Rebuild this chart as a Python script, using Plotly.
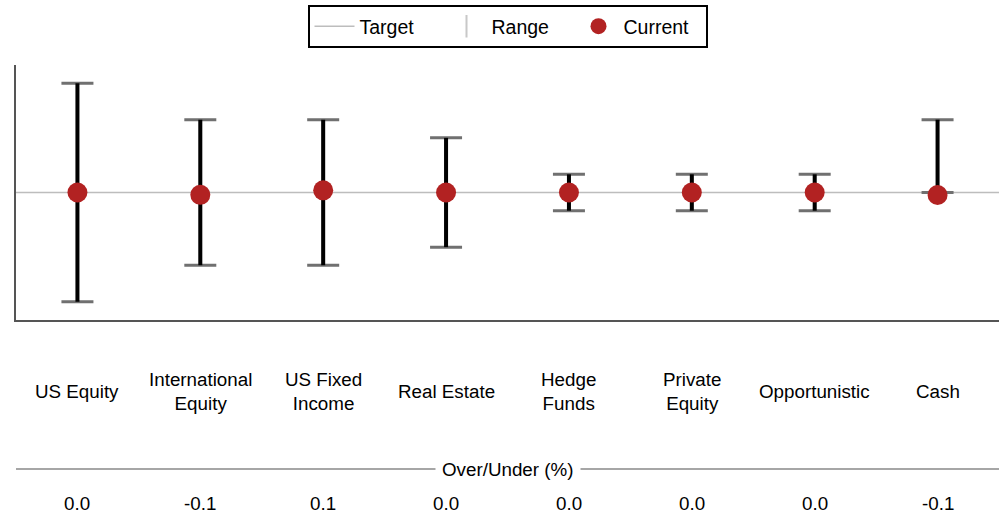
import plotly.graph_objects as go

categories = ["US Equity", "International<br>Equity", "US Fixed<br>Income", "Real Estate",
              "Hedge<br>Funds", "Private<br>Equity", "Opportunistic", "Cash"]
range_upper = [6.0, 4.0, 4.0, 3.0, 1.0, 1.0, 1.0, 4.0]
range_lower = [6.0, 4.0, 4.0, 3.0, 1.0, 1.0, 1.0, 0.0]
current = [0.0, -0.13, 0.12, 0.0, 0.0, 0.0, 0.0, -0.14]
target = [0.0, 0.0]
target_x = [-0.5, 7.5]

FONT = "Liberation Sans, Arial, sans-serif"
FS = 18.8
RED = "#B22222"
xpos = list(range(len(categories)))

fig = go.Figure()

fig.add_trace(go.Scatter(x=target_x, y=target, mode="lines", name="Target",
                         line=dict(color="#bdbdbd", width=1.5), hoverinfo="skip"))

# Range legend entry
fig.add_trace(go.Scatter(x=[None], y=[None], mode="markers", name="Range",
                         marker=dict(symbol="line-ns", size=22, color="#c8c8c8",
                                     line=dict(width=2, color="#c8c8c8"))))

# caps (gray)
fig.add_trace(go.Scatter(x=xpos, y=[0]*len(xpos), mode="markers", showlegend=False,
                         marker=dict(size=1, opacity=0),
                         error_y=dict(type="data", symmetric=False, array=range_upper,
                                      arrayminus=range_lower, color="#707070",
                                      thickness=3, width=16),
                         hoverinfo="skip"))
# stems (black)
fig.add_trace(go.Scatter(x=xpos, y=[0]*len(xpos), mode="markers", showlegend=False,
                         marker=dict(size=1, opacity=0),
                         error_y=dict(type="data", symmetric=False, array=range_upper,
                                      arrayminus=range_lower, color="#000000",
                                      thickness=4, width=0),
                         hoverinfo="skip"))

fig.add_trace(go.Scatter(x=xpos, y=current, mode="markers", name="Current",
                         marker=dict(size=20, color=RED)))

annotations = []
for i, c in enumerate(categories):
    annotations.append(dict(x=i, xref="x", y=(320-391)/255, yref="paper", text=c,
                            showarrow=False, yanchor="middle", xanchor="center",
                            font=dict(size=FS, color="#000", family=FONT)))
    annotations.append(dict(x=i, xref="x", y=(320-503)/255, yref="paper",
                            text=f"{current[i]:.1f}", showarrow=False,
                            yanchor="middle", xanchor="center",
                            font=dict(size=FS, color="#000", family=FONT)))
annotations.append(dict(x=0.5, xref="paper", y=(320-469)/255, yref="paper",
                        text="Over/Under (%)", showarrow=False, yanchor="middle",
                        xanchor="center", bgcolor="white", borderpad=6,
                        font=dict(size=FS, color="#000", family=FONT)))

fig.update_layout(
    width=1001, height=517,
    margin=dict(l=16, r=2, t=65, b=197),
    paper_bgcolor="white", plot_bgcolor="white",
    font=dict(family=FONT, size=FS, color="#000"),
    showlegend=True,
    legend=dict(orientation="h", x=0.5, xanchor="center", y=1 + 60/255, yanchor="top",
                bordercolor="#000", borderwidth=2, bgcolor="white",
                font=dict(size=19.5, family=FONT, color="#000"),
                entrywidth=77, entrywidthmode="pixels", itemwidth=40,
                itemsizing="trace"),
    xaxis=dict(range=[-0.5, 7.5], showgrid=False, zeroline=False, showticklabels=False,
               ticks="", showline=True, linecolor="#555", linewidth=2, fixedrange=True),
    yaxis=dict(range=[-7, 7], showgrid=False, zeroline=False, showticklabels=False,
               ticks="", showline=True, linecolor="#555", linewidth=2, fixedrange=True),
    annotations=annotations,
    shapes=[dict(type="line", xref="paper", yref="paper", x0=0, x1=1,
                 y0=(320-469)/255, y1=(320-469)/255, line=dict(color="#888", width=1.5),
                 layer="below")],
)

fig.write_html("out.html", config={"displayModeBar": False},
               post_script="document.body.style.margin='0px';document.body.style.overflow='hidden';")
